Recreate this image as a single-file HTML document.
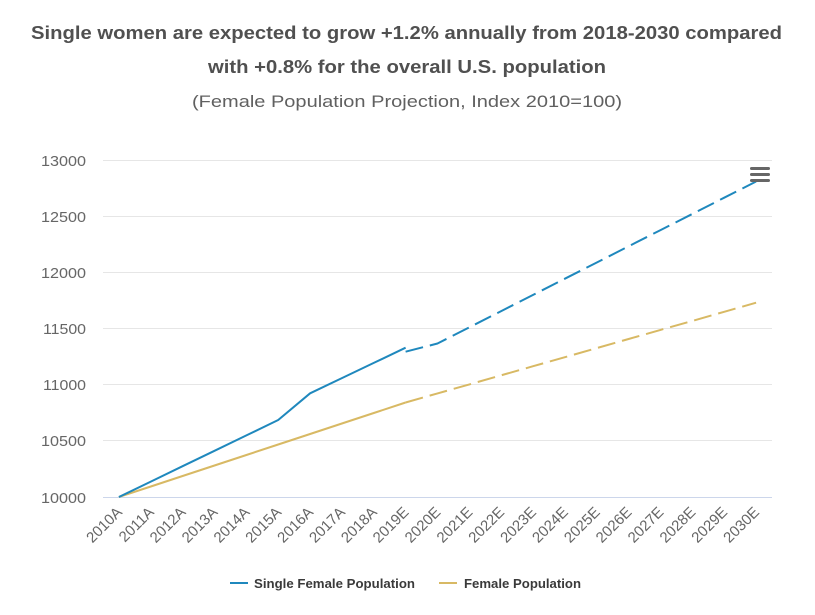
<!DOCTYPE html>
<html>
<head>
<meta charset="utf-8">
<style>
html,body{margin:0;padding:0;background:#fff;}
svg{display:block;}
text{font-family:"Liberation Sans",sans-serif;}
</style>
</head>
<body>
<svg width="815" height="615" viewBox="0 0 815 615" xmlns="http://www.w3.org/2000/svg">
<rect x="0" y="0" width="815" height="615" fill="#ffffff"/>
<!-- Title -->
<text x="406.5" y="39" text-anchor="middle" font-size="18" font-weight="bold" fill="#505050" textLength="751" lengthAdjust="spacingAndGlyphs">Single women are expected to grow +1.2% annually from 2018-2030 compared</text>
<text x="407" y="73" text-anchor="middle" font-size="18" font-weight="bold" fill="#505050" textLength="398" lengthAdjust="spacingAndGlyphs">with +0.8% for the overall U.S. population</text>
<text x="407" y="107" text-anchor="middle" font-size="17" fill="#606060" textLength="430" lengthAdjust="spacingAndGlyphs">(Female Population Projection, Index 2010=100)</text>

<!-- gridlines -->
<g stroke="#e6e6e6" stroke-width="1">
<line x1="103" y1="160.5" x2="772" y2="160.5"/>
<line x1="103" y1="216.5" x2="772" y2="216.5"/>
<line x1="103" y1="272.5" x2="772" y2="272.5"/>
<line x1="103" y1="328.5" x2="772" y2="328.5"/>
<line x1="103" y1="384.5" x2="772" y2="384.5"/>
<line x1="103" y1="440.5" x2="772" y2="440.5"/>
</g>
<line x1="103" y1="497.5" x2="772" y2="497.5" stroke="#ccd6eb" stroke-width="1"/>

<!-- y labels -->
<g font-size="15" fill="#666" text-anchor="end">
<text x="86" y="166" textLength="45" lengthAdjust="spacingAndGlyphs">13000</text>
<text x="86" y="222" textLength="45" lengthAdjust="spacingAndGlyphs">12500</text>
<text x="86" y="278" textLength="45" lengthAdjust="spacingAndGlyphs">12000</text>
<text x="86" y="334" textLength="43" lengthAdjust="spacingAndGlyphs">11500</text>
<text x="86" y="390" textLength="43" lengthAdjust="spacingAndGlyphs">11000</text>
<text x="86" y="446" textLength="45" lengthAdjust="spacingAndGlyphs">10500</text>
<text x="86" y="503" textLength="45" lengthAdjust="spacingAndGlyphs">10000</text>
</g>

<!-- x labels -->
<g font-size="15" fill="#666" text-anchor="end">
<text transform="translate(123,513) rotate(-45)">2010A</text>
<text transform="translate(154.8,513) rotate(-45)">2011A</text>
<text transform="translate(186.6,513) rotate(-45)">2012A</text>
<text transform="translate(218.5,513) rotate(-45)">2013A</text>
<text transform="translate(250.4,513) rotate(-45)">2014A</text>
<text transform="translate(282.2,513) rotate(-45)">2015A</text>
<text transform="translate(314.1,513) rotate(-45)">2016A</text>
<text transform="translate(345.9,513) rotate(-45)">2017A</text>
<text transform="translate(377.8,513) rotate(-45)">2018A</text>
<text transform="translate(409.6,513) rotate(-45)">2019E</text>
<text transform="translate(441.5,513) rotate(-45)">2020E</text>
<text transform="translate(473.4,513) rotate(-45)">2021E</text>
<text transform="translate(505.2,513) rotate(-45)">2022E</text>
<text transform="translate(537.1,513) rotate(-45)">2023E</text>
<text transform="translate(568.9,513) rotate(-45)">2024E</text>
<text transform="translate(600.8,513) rotate(-45)">2025E</text>
<text transform="translate(632.6,513) rotate(-45)">2026E</text>
<text transform="translate(664.5,513) rotate(-45)">2027E</text>
<text transform="translate(696.4,513) rotate(-45)">2028E</text>
<text transform="translate(728.2,513) rotate(-45)">2029E</text>
<text transform="translate(760.1,513) rotate(-45)">2030E</text>
</g>

<!-- Female Population (yellow) -->
<polyline fill="none" stroke="#d8b964" stroke-width="2" stroke-linejoin="round"
 points="118.9,497 150.8,486.5 182.6,476 214.5,465.5 246.4,455 278.2,444.5 310.1,434 341.9,423.5 373.8,413 405.6,402.5"/>
<polyline fill="none" stroke="#d8b964" stroke-width="2" stroke-dasharray="18,7" stroke-linejoin="round"
 points="405.6,402.5 437.5,393.4 469.4,384.4 501.2,375.3 533.1,366.2 564.9,357.2 596.8,348.1 628.6,339.0 660.5,329.9 692.4,320.9 724.2,311.8 756.1,302.7"/>

<!-- Single Female Population (blue) -->
<polyline fill="none" stroke="#1f88bd" stroke-width="2" stroke-linejoin="round"
 points="118.9,497 150.8,481.6 182.6,466.2 214.5,450.8 246.4,435.4 278.2,420 310.1,393.3 341.9,378.1 373.8,362.9 405.6,347.7"/>
<polyline fill="none" stroke="#1f88bd" stroke-width="2" stroke-dasharray="18,7" stroke-linejoin="round"
 points="405.6,351.7 437.5,343.5 469.4,327.3 501.2,311.1 533.1,294.9 564.9,278.7 596.8,262.5 628.6,246.3 660.5,230.1 692.4,213.9 724.2,197.7 756.1,181.5"/>

<!-- menu icon -->
<g stroke="#666" stroke-width="3" stroke-linecap="round">
<line x1="751.5" y1="168.5" x2="768.5" y2="168.5"/>
<line x1="751.5" y1="174.5" x2="768.5" y2="174.5"/>
<line x1="751.5" y1="180.5" x2="768.5" y2="180.5"/>
</g>

<!-- legend -->
<line x1="230" y1="583" x2="248" y2="583" stroke="#1f88bd" stroke-width="2"/>
<text x="254" y="588" font-size="13" font-weight="bold" fill="#3a3a3a" textLength="161" lengthAdjust="spacingAndGlyphs">Single Female Population</text>
<line x1="439" y1="583" x2="457" y2="583" stroke="#d8b964" stroke-width="2"/>
<text x="464" y="588" font-size="13" font-weight="bold" fill="#3a3a3a" textLength="117" lengthAdjust="spacingAndGlyphs">Female Population</text>
</svg>
</body>
</html>
